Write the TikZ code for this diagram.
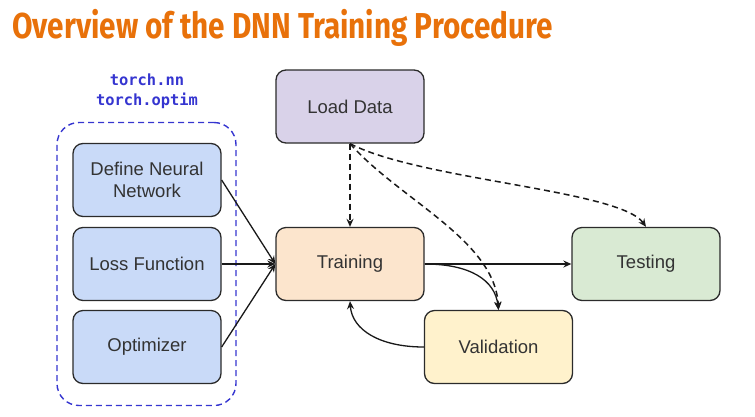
\documentclass[tikz,border=0pt]{standalone}
\usepackage{fontspec}
\setmainfont{Liberation Sans}
\newfontfamily\titlefont{Fira Sans}
\newfontfamily\codefont{DejaVu Sans Mono}
\usetikzlibrary{arrows.meta}
\definecolor{titleor}{HTML}{E8710A}
\definecolor{codeblue}{HTML}{3535D0}
\definecolor{bluefill}{HTML}{C9DAF8}
\definecolor{purplefill}{HTML}{D9D2E9}
\definecolor{orangefill}{HTML}{FCE5CD}
\definecolor{greenfill}{HTML}{D9EAD3}
\definecolor{yellowfill}{HTML}{FFF2CC}
\definecolor{edge}{HTML}{2B2B2B}
\tikzset{
  box/.style={draw=edge, line width=1.3pt, rounded corners=10pt, minimum width=148pt, minimum height=73pt, align=center, text=black!80, font=\fontsize{18.5}{22}\selectfont, inner sep=0pt},
  conn/.style={draw=black!90, line width=1.3pt, -{Stealth[length=8pt,width=7pt]}},
  dconn/.style={conn, line width=1.5pt, dash pattern=on 6pt off 4pt},
}
\begin{document}
\begin{tikzpicture}[x=1pt,y=-1pt]
\useasboundingbox (0,0) rectangle (755,416);
\node[anchor=base west, inner sep=0pt, text=titleor] (title) at (12,38) {\scalebox{0.825}[1]{\titlefont\bfseries\fontsize{36}{40}\selectfont Overview of the DNN Training Procedure}};
\node[text=codeblue, font=\codefont\bfseries\fontsize{15.4}{17}\selectfont, align=center, inner sep=0pt] (lib) at (147,91) {torch.nn\\[3pt]torch.optim};
\node[draw=codeblue, line width=1.4pt, dash pattern=on 6pt off 4pt, rounded corners=22pt, minimum width=179pt, minimum height=283pt] (grp) at (146.5,264) {};
\node[box, fill=bluefill] (def) at (147,180) {Define Neural\\Network};
\node[box, fill=bluefill] (loss) at (147,264) {Loss Function};
\node[box, fill=bluefill] (opt) at (147,347) {Optimizer};
\node[box, fill=purplefill] (load) at (350,106.5) {Load Data};
\node[box, fill=orangefill] (train) at (350,264) {Training};
\node[box, fill=greenfill] (test) at (646,264) {Testing};
\node[box, fill=yellowfill] (val) at (498.5,347) {Validation};
\draw[conn] (def.east) -- (train.west);
\draw[conn] (loss.east) -- (train.west);
\draw[conn] (opt.east) -- (train.west);
\draw[dconn] (load.south) -- (train.north);
\draw[dconn] (load.south) .. controls (400,200) and (495,240) .. (val.north);
\draw[dconn] (load.south) .. controls (420,180) and (620,190) .. (test.north);
\draw[conn] (train.east) -- (test.west);
\draw[conn] (train.east) .. controls (470,264) and (495,280) .. (val.north);
\draw[conn] (val.west) .. controls (380,347) and (352,330) .. (train.south);
\end{tikzpicture}
\end{document}
